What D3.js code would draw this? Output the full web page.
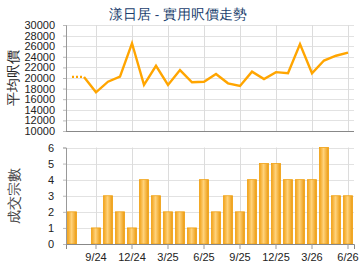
<!DOCTYPE html>
<html><head><meta charset="utf-8">
<script src="https://cdn.jsdelivr.net/npm/d3@7/dist/d3.min.js"></script>
<style>body{margin:0;background:#fff}svg{display:block}text{font-family:"Liberation Sans",Arial,sans-serif}</style>
</head><body><svg id="c" width="360" height="270"></svg>
<script>
const months = ["7/24","8/24","9/24","10/24","11/24","12/24","1/25","2/25","3/25","4/25","5/25","6/25","7/25","8/25","9/25","10/25","11/25","12/25","1/26","2/26","3/26","4/26","5/26","6/26"];
const prices = [20200,20200,17300,19300,20250,26550,18700,22300,18700,21500,19200,19300,20750,19000,18500,21200,19800,21100,20900,26400,20900,23300,24200,24800];
const counts = [2,0,1,3,2,1,4,3,2,2,1,4,2,3,2,4,5,5,4,4,4,6,3,3];
const tickMonths = ["9/24","12/24","3/25","6/25","9/25","12/25","3/26","6/26"];
const priceTicks = [10000,12000,14000,16000,18000,20000,22000,24000,26000,28000,30000];
const countTicks = [0,1,2,3,4,5,6];
const title = "漾日居 - 實用呎價走勢";

const svg = d3.select("#c");
const L = 66, R = 354;
const x = d3.scaleBand().domain(months).range([L, R]).paddingInner(0).paddingOuter(0);
const cx = m => x(m) + x.bandwidth()/2;
const yP = d3.scaleLinear().domain([10000,30000]).range([131,25]);
const yC = d3.scaleLinear().domain([0,6]).range([244,147.5]);

const defs = svg.append("defs");
const g = defs.append("linearGradient").attr("id","bg").attr("x1","0").attr("x2","1").attr("y1","0").attr("y2","0");
g.append("stop").attr("offset","0%").attr("stop-color","#f2a21a");
g.append("stop").attr("offset","45%").attr("stop-color","#ffd27a");
g.append("stop").attr("offset","100%").attr("stop-color","#eb9a10");

svg.append("text").attr("x",178).attr("y",19).attr("text-anchor","middle")
  .attr("font-size",13.5).attr("fill","#1b3f6e").text(title);

// grids
function grid(yScale, ticks, top, bottom){
  svg.append("g").selectAll("line.h").data(ticks).join("line")
    .attr("x1",L).attr("x2",R).attr("y1",d=>Math.round(yScale(d))+0.5).attr("y2",d=>Math.round(yScale(d))+0.5)
    .attr("stroke","#e2e2e2").attr("stroke-width",1);
  svg.append("g").selectAll("line.v").data(tickMonths).join("line")
    .attr("x1",d=>Math.round(cx(d))+0.5).attr("x2",d=>Math.round(cx(d))+0.5).attr("y1",top).attr("y2",bottom)
    .attr("stroke","#dcdcdc").attr("stroke-width",1);
}
grid(yP, priceTicks, 25, 131);
grid(yC, countTicks, 147.5, 244);

// top axes
const ayP = svg.append("g").attr("transform",`translate(${L},0)`)
  .call(d3.axisLeft(yP).tickValues(priceTicks).tickSize(3).tickPadding(8).tickFormat(d3.format("d")));
ayP.select(".domain").attr("stroke","#999");
ayP.selectAll(".tick line").attr("stroke","#bbb");
ayP.selectAll("text").attr("font-size",11).attr("fill","#222").attr("font-family","Liberation Sans, Arial, sans-serif");
svg.append("line").attr("x1",L).attr("x2",R).attr("y1",131.5).attr("y2",131.5).attr("stroke","#888");

// price line
const line = d3.line().x((d,i)=>cx(months[i])).y(d=>yP(d));
svg.append("path").datum(prices.slice(0,2)).attr("d",line).attr("fill","none")
  .attr("stroke","#ffa500").attr("stroke-width",2.2).attr("stroke-dasharray","2,2");
const solid = d3.line().x(d=>cx(d.m)).y(d=>yP(d.v));
svg.append("path").datum(prices.map((v,i)=>({m:months[i],v})).slice(1)).attr("d",solid).attr("fill","none")
  .attr("stroke","#ffa500").attr("stroke-width",2.4).attr("stroke-linejoin","miter");

svg.append("text").attr("transform","translate(18,78) rotate(-90)").attr("text-anchor","middle")
  .attr("font-size",14).attr("fill","#222").text("平均呎價");

// bottom axes
const ayC = svg.append("g").attr("transform",`translate(${L},0)`)
  .call(d3.axisLeft(yC).tickValues(countTicks).tickSize(3).tickPadding(9).tickFormat(d3.format("d")));
ayC.select(".domain").attr("stroke","#999");
ayC.selectAll(".tick line").attr("stroke","#bbb");
ayC.selectAll("text").attr("font-size",11).attr("fill","#222").attr("font-family","Liberation Sans, Arial, sans-serif");

const bw = 9;
svg.append("g").selectAll("rect").data(counts.map((v,i)=>({m:months[i],v})).filter(d=>d.v>0)).join("rect")
  .attr("x",d=>cx(d.m)-bw/2).attr("width",bw).attr("y",d=>yC(d.v)).attr("height",d=>yC(0)-yC(d.v))
  .attr("fill","url(#bg)").attr("stroke","#f0a010").attr("stroke-width",0.8);

const axC = svg.append("g").attr("transform","translate(0,244)")
  .call(d3.axisBottom(x).tickValues(tickMonths).tickSize(5).tickPadding(4));
axC.select(".domain").attr("stroke","#888");
axC.selectAll(".tick line").attr("stroke","#999");
axC.selectAll("text").attr("font-size",11).attr("fill","#222").attr("font-family","Liberation Sans, Arial, sans-serif");

svg.append("text").attr("transform","translate(19,196) rotate(-90)").attr("text-anchor","middle")
  .attr("font-size",14).attr("fill","#444").text("成交宗數");
</script></body></html>
